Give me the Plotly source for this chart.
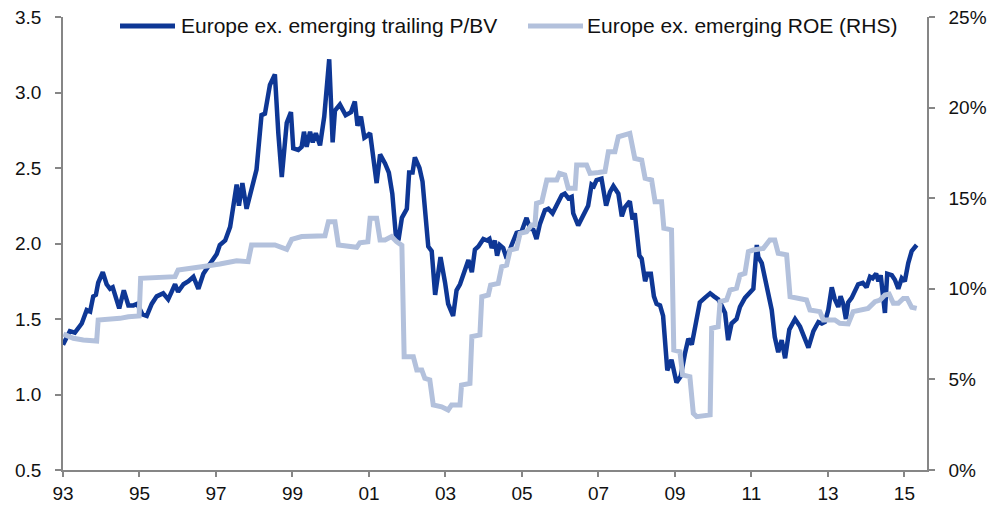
import plotly.graph_objects as go

# ---- Data (decimal years) ----
pbv_x = [1993.00, 1993.18, 1993.31, 1993.49, 1993.62, 1993.71, 1993.79, 1993.86, 1993.92,
         1994.04, 1994.14, 1994.23, 1994.30, 1994.36, 1994.47, 1994.59, 1994.71, 1994.84, 1994.94,
         1995.08, 1995.19, 1995.32, 1995.45, 1995.62, 1995.75, 1995.84, 1995.93,
         1996.01, 1996.15, 1996.28, 1996.41, 1996.54, 1996.67, 1996.80, 1996.93,
         1997.02, 1997.10, 1997.24, 1997.37, 1997.45, 1997.54, 1997.60, 1997.69, 1997.80, 1997.93,
         1998.06, 1998.19, 1998.28, 1998.41, 1998.54, 1998.63, 1998.72, 1998.85, 1998.96,
         1999.02, 1999.15, 1999.24, 1999.30, 1999.37, 1999.46, 1999.53, 1999.61, 1999.72, 1999.83, 1999.96,
         2000.05, 2000.11, 2000.24, 2000.39, 2000.53, 2000.63, 2000.70, 2000.79, 2000.88, 2000.94,
         2001.03, 2001.20, 2001.29, 2001.42, 2001.52, 2001.61, 2001.70, 2001.77, 2001.86, 2001.99,
         2002.05, 2002.14, 2002.20, 2002.32, 2002.40, 2002.55, 2002.64, 2002.73, 2002.87, 2002.99,
         2003.07, 2003.20, 2003.29, 2003.38, 2003.51, 2003.60, 2003.69, 2003.77, 2003.86, 2003.99,
         2004.09, 2004.15, 2004.21, 2004.29, 2004.35, 2004.42, 2004.51, 2004.60, 2004.73, 2004.86, 2004.99,
         2005.12, 2005.21, 2005.30, 2005.38, 2005.47, 2005.60, 2005.69, 2005.80, 2005.91,
         2006.04, 2006.12, 2006.21, 2006.30, 2006.34, 2006.47, 2006.60, 2006.73, 2006.82, 2006.88, 2006.95,
         2007.08, 2007.20, 2007.30, 2007.39, 2007.52, 2007.61, 2007.69, 2007.82, 2007.89, 2007.95,
         2008.07, 2008.13, 2008.22, 2008.28, 2008.37, 2008.45, 2008.52, 2008.61, 2008.69, 2008.80, 2008.91,
         2009.04, 2009.15, 2009.26, 2009.35, 2009.44, 2009.55, 2009.65, 2009.78, 2009.92,
         2010.02, 2010.13, 2010.22, 2010.31, 2010.39, 2010.48, 2010.61, 2010.70, 2010.83, 2010.94,
         2011.05, 2011.14, 2011.18, 2011.27, 2011.40, 2011.53, 2011.61, 2011.70, 2011.79, 2011.88, 2011.99,
         2012.14, 2012.27, 2012.40, 2012.49, 2012.62, 2012.75, 2012.84, 2012.92,
         2013.01, 2013.10, 2013.18, 2013.27, 2013.33, 2013.40, 2013.47, 2013.53, 2013.62, 2013.71, 2013.79, 2013.91,
         2014.01, 2014.10, 2014.17, 2014.26, 2014.32, 2014.38, 2014.43, 2014.49, 2014.55, 2014.67, 2014.75, 2014.84, 2014.93,
         2015.01, 2015.10, 2015.19, 2015.32]
pbv_y = [1.33, 1.42, 1.41, 1.47, 1.56, 1.55, 1.65, 1.66, 1.74,
         1.81, 1.73, 1.70, 1.71, 1.65, 1.57, 1.69, 1.59, 1.59, 1.60,
         1.53, 1.52, 1.60, 1.65, 1.67, 1.63, 1.68, 1.73,
         1.68, 1.73, 1.75, 1.78, 1.70, 1.80, 1.85, 1.90,
         1.93, 1.99, 2.02, 2.11, 2.24, 2.39, 2.25, 2.40, 2.23, 2.35,
         2.49, 2.85, 2.86, 3.05, 3.12, 2.73, 2.44, 2.80, 2.87,
         2.63, 2.62, 2.64, 2.74, 2.64, 2.74, 2.67, 2.73, 2.65, 2.84, 3.22,
         2.67, 2.88, 2.92, 2.85, 2.87, 2.94, 2.78, 2.84, 2.70, 2.71,
         2.73, 2.40, 2.59, 2.53, 2.47, 2.33, 2.06, 2.02, 2.17, 2.23,
         2.47, 2.47, 2.57, 2.50, 2.41, 1.98, 1.95, 1.66, 1.91, 1.74,
         1.60, 1.52, 1.69, 1.73, 1.82, 1.89, 1.81, 1.96, 1.98, 2.03,
         2.02, 2.03, 1.97, 2.02, 1.92, 1.99, 1.97, 1.90, 1.99, 2.07, 2.08,
         2.17, 2.10, 2.09, 2.03, 2.13, 2.22, 2.23, 2.20, 2.25,
         2.32, 2.33, 2.30, 2.31, 2.20, 2.12, 2.19, 2.25, 2.39, 2.38, 2.42,
         2.43, 2.25, 2.34, 2.38, 2.33, 2.18, 2.24, 2.28, 2.16, 2.20,
         1.92, 1.90, 1.75, 1.80, 1.80, 1.65, 1.60, 1.59, 1.52, 1.16, 1.23,
         1.08, 1.12, 1.27, 1.37, 1.33, 1.48, 1.61, 1.64, 1.67,
         1.65, 1.63, 1.59, 1.54, 1.36, 1.47, 1.50, 1.58, 1.64, 1.67,
         1.70, 1.99, 1.91, 1.87, 1.73, 1.56, 1.38, 1.28, 1.36, 1.24, 1.43,
         1.50, 1.45, 1.36, 1.31, 1.42, 1.48, 1.47, 1.48,
         1.56, 1.71, 1.63, 1.58, 1.65, 1.60, 1.50, 1.61, 1.64, 1.68, 1.73, 1.74,
         1.71, 1.78, 1.77, 1.80, 1.75, 1.79, 1.65, 1.54, 1.80, 1.79, 1.76, 1.70, 1.77,
         1.75, 1.87, 1.95, 1.99]

roe_x = [1993.01, 1993.27, 1993.53, 1993.88, 1993.92, 1994.14, 1994.49, 1994.71, 1994.99,
         1995.03, 1995.54, 1995.93, 1996.01, 1996.41, 1996.76, 1997.10, 1997.54, 1997.84, 1997.93,
         1998.54, 1998.85, 1998.98, 1999.24, 1999.85, 1999.94, 2000.11, 2000.20, 2000.68, 2000.76, 2000.97,
         2001.03, 2001.20, 2001.29, 2001.42, 2001.59, 2001.72, 2001.86, 2001.92,
         2002.16, 2002.25, 2002.38, 2002.46, 2002.59, 2002.68, 2002.90, 2003.07, 2003.16, 2003.38, 2003.42,
         2003.64, 2003.69, 2003.90, 2003.95, 2004.12, 2004.18, 2004.38, 2004.47, 2004.60, 2004.69, 2004.86, 2004.95,
         2005.12, 2005.25, 2005.34, 2005.38, 2005.52, 2005.65, 2005.91, 2005.98,
         2006.12, 2006.21, 2006.39, 2006.43, 2006.69, 2006.78, 2007.00, 2007.17, 2007.26, 2007.43, 2007.52, 2007.82, 2007.95,
         2008.13, 2008.22, 2008.39, 2008.48, 2008.65, 2008.71, 2008.91, 2008.97,
         2009.13, 2009.20, 2009.39, 2009.48, 2009.57, 2009.92, 2009.96,
         2010.13, 2010.18, 2010.35, 2010.44, 2010.61, 2010.70, 2010.83, 2010.92,
         2011.05, 2011.31, 2011.48, 2011.61, 2011.70, 2011.92, 2012.01,
         2012.18, 2012.44, 2012.53, 2012.79, 2012.88, 2013.18, 2013.31, 2013.53, 2013.66,
         2014.05, 2014.23, 2014.36, 2014.49, 2014.60, 2014.71, 2014.84, 2014.97, 2015.07, 2015.19, 2015.32]
roe_y = [7.50, 7.27, 7.17, 7.12, 8.28, 8.30, 8.37, 8.46, 8.50,
         10.58, 10.63, 10.67, 11.04, 11.19, 11.26, 11.37, 11.55, 11.50, 12.42,
         12.42, 12.18, 12.73, 12.88, 12.93, 13.70, 13.70, 12.42, 12.29, 12.54, 12.60,
         13.89, 13.89, 12.69, 12.69, 12.88, 12.60, 12.40, 6.25,
         6.25, 5.52, 5.52, 5.06, 4.97, 3.59, 3.49, 3.31, 3.59, 3.59, 4.69,
         4.78, 7.36, 7.45, 9.56, 9.66, 10.21, 10.30, 11.22, 11.31, 12.14, 12.23, 13.06,
         13.15, 13.52, 13.52, 14.72, 14.81, 16.00, 16.00, 16.37,
         16.28, 15.55, 15.55, 16.83, 16.83, 16.37, 16.42, 16.47, 17.57, 17.57, 18.39, 18.58, 17.20,
         17.11, 16.10, 16.00, 14.81, 14.81, 13.34, 13.25, 6.62,
         6.53, 5.24, 5.15, 3.13, 2.94, 3.04, 7.82,
         7.91, 9.29, 9.38, 9.93, 10.03, 10.76, 10.85, 12.05,
         12.14, 12.23, 12.69, 12.69, 11.96, 11.87, 9.56,
         9.47, 9.38, 8.83, 8.74, 8.28, 8.28, 8.10, 8.06, 8.74,
         8.92, 9.29, 9.38, 9.66, 9.71, 9.20, 9.20, 9.47, 9.47, 8.98, 8.92]

x_tick_vals = [1993, 1995, 1997, 1999, 2001, 2003, 2005, 2007, 2009, 2011, 2013, 2015]
x_tick_text = ["93", "95", "97", "99", "01", "03", "05", "07", "09", "11", "13", "15"]

pbv_name = "Europe ex. emerging trailing P/BV"
roe_name = "Europe ex. emerging ROE (RHS)"

DARK = "#0E3795"
LIGHT = "#B3C1DC"
AXIS = "#868686"
FONT = "Liberation Sans, Arial, sans-serif"

fig = go.Figure()
fig.add_trace(go.Scatter(x=roe_x, y=roe_y, name=roe_name, mode="lines",
                         line=dict(color=LIGHT, width=5), yaxis="y2", showlegend=False))
fig.add_trace(go.Scatter(x=pbv_x, y=pbv_y, name=pbv_name, mode="lines",
                         line=dict(color=DARK, width=4.5), showlegend=False))

W, H = 1000, 508
L, R, T, B = 63, 73, 17, 38
pw, ph = W - L - R, H - T - B

def px(xp):
    return (xp - L) / pw

def py(yp):
    return (H - B - yp) / ph

# manual legend
legend_items = [(120, 175, 179, pbv_name, DARK), (528, 583, 585, roe_name, LIGHT)]
shapes = []
annotations = []
for x0, x1, xt, name, col in legend_items:
    shapes.append(dict(type="line", xref="paper", yref="paper", x0=px(x0), x1=px(x1),
                       y0=py(26), y1=py(26), line=dict(color=col, width=5)))
    annotations.append(dict(xref="paper", yref="paper", x=px(xt), y=py(26), text=name,
                            showarrow=False, xanchor="left", yanchor="middle",
                            font=dict(family=FONT, size=21, color="#111111")))

fig.update_layout(
    width=W, height=H,
    margin=dict(l=L, r=R, t=T, b=B, autoexpand=False),
    paper_bgcolor="white", plot_bgcolor="white",
    font=dict(family=FONT, size=19, color="#111111"),
    shapes=shapes, annotations=annotations,
    xaxis=dict(range=[1993, 2015.59], tickvals=x_tick_vals, ticktext=x_tick_text,
               showgrid=False, zeroline=False, showline=True, linecolor=AXIS, linewidth=1.5,
               ticks="outside", ticklen=5, tickcolor=AXIS, tickwidth=1.5,
               tickfont=dict(size=19), automargin=False),
    yaxis=dict(range=[0.5, 3.5], dtick=0.5, tickformat=".1f",
               showgrid=False, zeroline=False, showline=True, linecolor=AXIS, linewidth=1.5,
               ticks="outside", ticklen=6, tickcolor=AXIS, tickwidth=1.5,
               tickfont=dict(size=19), ticklabelstandoff=10, automargin=False),
    yaxis2=dict(range=[0, 25], dtick=5, ticksuffix="%", overlaying="y", side="right",
                showgrid=False, zeroline=False, showline=True, linecolor=AXIS, linewidth=1.5,
                ticks="outside", ticklen=6, tickcolor=AXIS, tickwidth=1.5,
                tickfont=dict(size=19), ticklabelstandoff=10, automargin=False),
)

fig.write_html("out.html", config={"displayModeBar": False},
               post_script="document.body.style.margin='0';")
